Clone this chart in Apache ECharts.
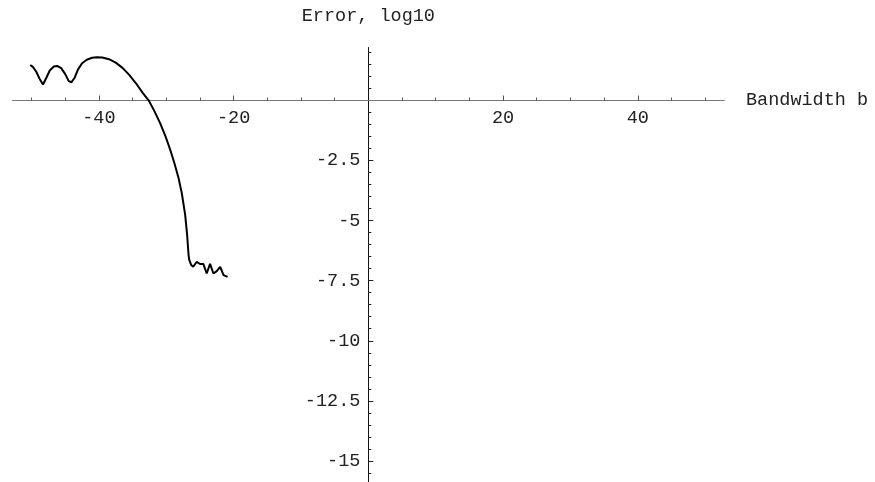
<!DOCTYPE html>
<html>
<head>
<meta charset="utf-8">
<script src="https://cdn.jsdelivr.net/npm/echarts@6/dist/echarts.min.js"></script>
<style>
  html, body { margin: 0; padding: 0; background: #fff; }
  #box { width: 875px; height: 482px; }
</style>
</head>
<body>
<div id="box"></div>
<script>
// bandwidth b (x) and error, log10 (y)
var bandwidth = [-50.2, -49.8, -49.3, -48.8, -48.3, -47.8, -47.3, -46.7, -46.2, -45.6,
                 -45.0, -44.5, -44.1, -43.6, -43.1, -42.5, -41.8, -41.0, -40.3, -39.5,
                 -38.5, -37.5, -36.5, -35.5, -34.5, -33.5, -32.6, -31.8, -30.9, -30.1,
                 -29.4, -28.8, -28.2, -27.7, -27.2, -26.9, -26.7, -26.6, -26.3, -26.0,
                 -25.5, -25.0, -24.5, -24.0, -23.5, -23.0, -22.5, -22.0, -21.5, -20.9];
var errorLog10 = [1.48, 1.40, 1.20, 0.90, 0.67, 0.95, 1.25, 1.42, 1.44, 1.35,
                  1.10, 0.82, 0.76, 0.95, 1.30, 1.55, 1.70, 1.78, 1.80, 1.79,
                  1.72, 1.58, 1.36, 1.07, 0.72, 0.32, 0.00, -0.42, -0.95, -1.50,
                  -2.06, -2.60, -3.20, -3.85, -4.75, -5.60, -6.40, -6.62, -6.85, -6.92,
                  -6.72, -6.80, -6.80, -7.20, -6.80, -7.20, -7.10, -6.92, -7.27, -7.34];

var xMajorTicks = [-40, -20, 20, 40];
var yMajorTicks = [-15, -12.5, -10, -7.5, -5, -2.5];

var xMinorTicks = [];
for (var i = -50; i <= 50; i += 5) { if (i !== 0) xMinorTicks.push(i); }
var yMinorTicks = [];
for (var j = -15.5; j <= 2; j += 0.5) { if (j !== 0) yMinorTicks.push(j); }

window.onload = function () {
    var charts = echarts.init(document.getElementById('box'));

    var xMin = -52.8, xMax = 52.8, yMin = -15.88, yMax = 2.2;
    var grid = { left: 12.7, right: 151, top: 47.7, bottom: 0 };
    var plotW = 875 - grid.left - grid.right;
    var plotH = 482 - grid.top - grid.bottom;
    // axes cross at the origin: shift them from the grid edges onto zero
    var xOffset = -plotH * (0 - yMin) / (yMax - yMin);
    var yOffset = -plotW * (0 - xMin) / (xMax - xMin);

    var font = { fontFamily: 'Liberation Mono', fontSize: 18.5, color: '#222' };
    var xLine = { onZero: false, lineStyle: { color: '#777', width: 1 } };
    var yLine = { onZero: false, lineStyle: { color: '#111', width: 1 } };

    var points = bandwidth.map(function (b, k) { return [b, errorLog10[k]]; });

    var option = {
        animation: false,
        grid: { left: grid.left, right: grid.right, top: grid.top, bottom: grid.bottom,
                containLabel: false, outerBoundsMode: 'none' },
        xAxis: [
            {
                type: 'value', min: xMin, max: xMax, position: 'bottom', offset: xOffset,
                name: 'Bandwidth b', nameLocation: 'end', nameGap: 22,
                nameTextStyle: font,
                axisLine: xLine,
                axisTick: { inside: true, length: 5, customValues: xMajorTicks, lineStyle: { color: '#555' } },
                axisLabel: Object.assign({ margin: 8, customValues: xMajorTicks }, font),
                splitLine: { show: false }
            },
            {
                type: 'value', min: xMin, max: xMax, position: 'bottom', offset: xOffset,
                axisLine: xLine,
                axisTick: { inside: true, length: 3, customValues: xMinorTicks, lineStyle: { color: '#555' } },
                axisLabel: { show: false },
                splitLine: { show: false }
            }
        ],
        yAxis: [
            {
                type: 'value', min: yMin, max: yMax, position: 'left', offset: yOffset,
                name: 'Error, log10', nameLocation: 'end', nameGap: 22,
                nameTextStyle: font,
                axisLine: yLine,
                axisTick: { inside: true, length: 5, customValues: yMajorTicks, lineStyle: { color: '#222' } },
                axisLabel: Object.assign({ margin: 8, customValues: yMajorTicks }, font),
                splitLine: { show: false }
            },
            {
                type: 'value', min: yMin, max: yMax, position: 'left', offset: yOffset,
                axisLine: yLine,
                axisTick: { inside: true, length: 3, customValues: yMinorTicks, lineStyle: { color: '#222' } },
                axisLabel: { show: false },
                splitLine: { show: false }
            }
        ],
        series: [
            {
                type: 'line',
                data: points,
                showSymbol: false,
                lineStyle: { color: '#000', width: 2 }
            }
        ]
    };

    charts.setOption(option);
};
</script>
</body>
</html>
